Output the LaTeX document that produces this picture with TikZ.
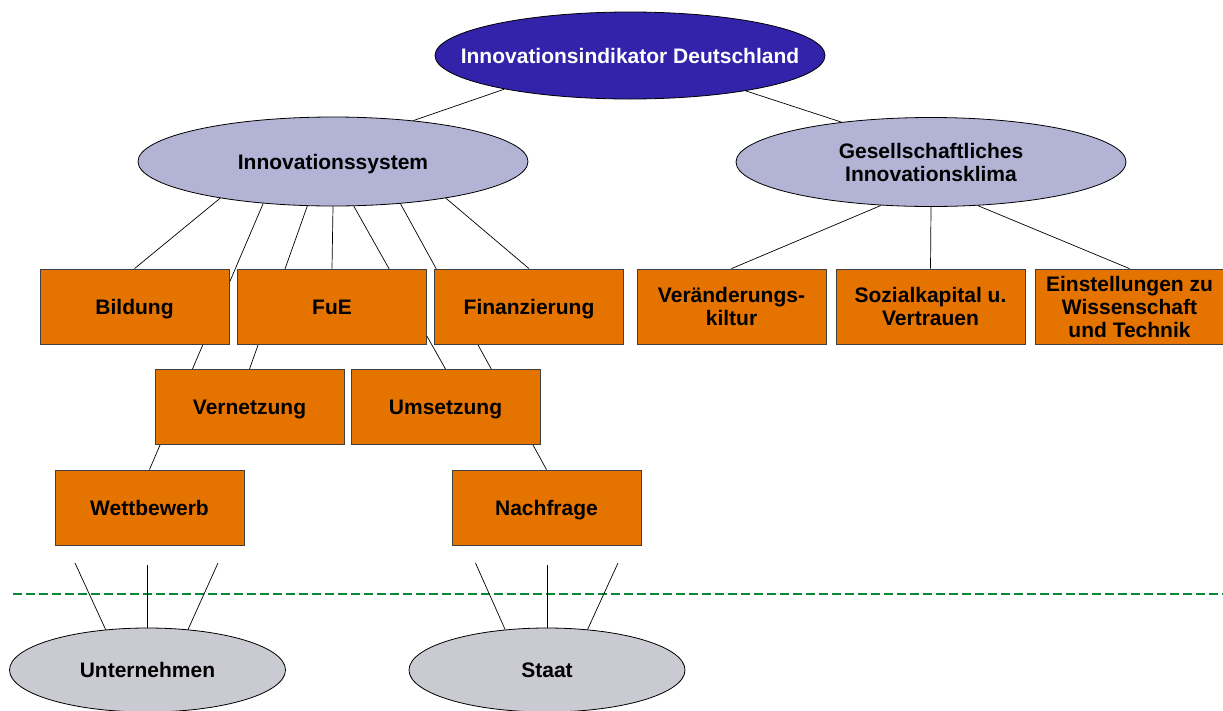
\documentclass[tikz,border=0pt]{standalone}
\usepackage{fontspec}
\setmainfont{Liberation Sans}
\usetikzlibrary{shapes.geometric}
\pgfdeclarelayer{background}
\pgfsetlayers{background,main}
\definecolor{navy}{RGB}{51,34,170}
\definecolor{lav}{RGB}{179,179,214}
\definecolor{org}{RGB}{229,115,0}
\definecolor{gry}{RGB}{202,202,210}
\definecolor{grn}{RGB}{10,136,58}
\begin{document}
\begin{tikzpicture}[x=1pt,y=-1pt,
  txt/.style={font=\fontsize{21}{23}\selectfont\bfseries},
  one/.style={text height=15pt, text depth=0pt},
  ell/.style={ellipse, draw=black, line width=0.8pt, inner sep=0pt, minimum width=390pt, minimum height=88pt},
  smallell/.style={ellipse, draw=black, line width=0.8pt, inner sep=0pt, minimum width=276pt, minimum height=84pt, fill=gry},
  box/.style={rectangle, draw=black!75, line width=0.8pt, fill=org, minimum width=189pt, minimum height=75pt, inner sep=0pt, txt},
  conn/.style={draw=black, line width=0.7pt},
  sep/.style={draw=grn, line width=2pt, dash pattern=on 9pt off 4pt}
]
\useasboundingbox (0,0) rectangle (1223,710);

% ellipses
\node[ell, fill=navy, minimum height=87pt, label={[txt, one, text=white]center:Innovationsindikator Deutschland}] (id) at (630,55.5) {};
\node[ell, fill=lav, minimum height=89pt, label={[txt, one]center:Innovationssystem}] (is) at (333,161.5) {};
\node[ell, fill=lav, minimum height=89pt, label={[txt, align=center]center:Gesellschaftliches\\Innovationsklima}] (gi) at (931,162) {};

% boxes row 1
\node[box, one] (bild) at (134.5,306.5) {Bildung};
\node[box, one] (fue) at (332,306.5) {FuE};
\node[box, one] (fin) at (529,306.5) {Finanzierung};
\node[box, align=center] (ver) at (731.5,306.5) {Veränderungs-\\kiltur};
\node[box, align=center] (soz) at (930.5,306.5) {Sozialkapital u.\\Vertrauen};
\node[box, align=center] (ein) at (1129.5,306.5) {Einstellungen zu\\Wissenschaft\\und Technik};
% row 2
\node[box, one] (vern) at (249.5,407) {Vernetzung};
\node[box, one] (ums) at (445.5,407) {Umsetzung};
% row 3
\node[box, one] (wett) at (149.5,507.5) {Wettbewerb};
\node[box, one] (nach) at (546.5,507.5) {Nachfrage};

% bottom ellipses
\node[smallell, label={[txt, one]center:Unternehmen}] (unt) at (147.5,670) {};
\node[smallell, label={[txt, one]center:Staat}] (staat) at (547,670) {};

% free ends of the legs
\coordinate (u1) at (75,563);
\coordinate (u2) at (147.5,565);
\coordinate (u3) at (218,563);
\coordinate (s1) at (475.5,563);
\coordinate (s2) at (547,565);
\coordinate (s3) at (618,563);

% separator
\draw[sep] (13,594) -- (1223,594);

\begin{pgfonlayer}{background}
  \fill[white] (0,0) rectangle (1223,710);
  \draw[conn] (id.195) -- (is.27);
  \draw[conn] (id.343.5) -- (gi.156.8);
  \draw[conn] (is.198.4) -- (bild.north);
  \draw[conn] (is.211.3) -- (wett.north);
  \draw[conn] (is.240) -- (vern.north);
  \draw[conn] (is.south) -- (fue.north);
  \draw[conn] (is.295) -- (ums.north);
  \draw[conn] (is.328.7) -- (nach.north);
  \draw[conn] (is.342.9) -- (fin.north);
  \draw[conn] (gi.221.3) -- (ver.north);
  \draw[conn] (gi.south) -- (soz.north);
  \draw[conn] (gi.317.9) -- (ein.north);
\end{pgfonlayer}

\draw[conn] (u1) -- (unt.136);
\draw[conn] (u2) -- (unt.north);
\draw[conn] (u3) -- (unt.45);
\draw[conn] (s1) -- (staat.136);
\draw[conn] (s2) -- (staat.north);
\draw[conn] (s3) -- (staat.45);
\end{tikzpicture}
\end{document}
